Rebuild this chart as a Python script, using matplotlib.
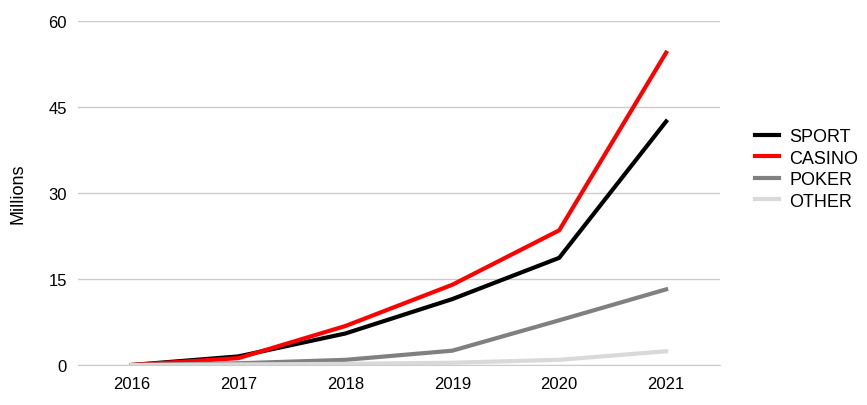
import matplotlib
matplotlib.use("Agg")
import matplotlib.pyplot as plt

years = ["2016", "2017", "2018", "2019", "2020", "2021"]
sport = [0, 1.5, 5.5, 11.5, 18.7, 42.5]
casino = [0, 1.2, 6.8, 14.0, 23.5, 54.5]
poker = [0, 0.3, 0.9, 2.5, 7.8, 13.2]
other = [0, 0.1, 0.2, 0.4, 0.9, 2.4]
yticks = [0, 15, 30, 45, 60]

plt.rcParams["font.family"] = "Liberation Sans"
fig = plt.figure(figsize=(8.67, 4.06), dpi=100)
ax = fig.add_axes([0.09, 0.0985, 0.74, 0.847])
x = range(len(years))
ax.plot(x, sport, color="black", lw=3, label="SPORT")
ax.plot(x, casino, color="#ff0000", lw=3, label="CASINO")
ax.plot(x, poker, color="#808080", lw=3, label="POKER")
ax.plot(x, other, color="#d9d9d9", lw=3, label="OTHER")
ax.set_xlim(-0.5, 5.5)
ax.set_ylim(0, 60)
ax.set_yticks(yticks)
ax.set_xticks(list(x))
ax.set_xticklabels(years)
ax.grid(axis="y", color="#cccccc", lw=1)
ax.set_axisbelow(True)
for s in ["top", "right", "left"]:
    ax.spines[s].set_visible(False)
ax.spines["bottom"].set_color("#cccccc")
ax.tick_params(length=0, labelsize=12, pad=8)
ax.set_ylabel("Millions", fontsize=13, labelpad=16)
ax.legend(loc="center left", bbox_to_anchor=(1.03, 0.57), frameon=False,
          fontsize=13, handlelength=1.3, labelspacing=0.25, handletextpad=0.6)
fig.savefig("out.png", dpi=100)
